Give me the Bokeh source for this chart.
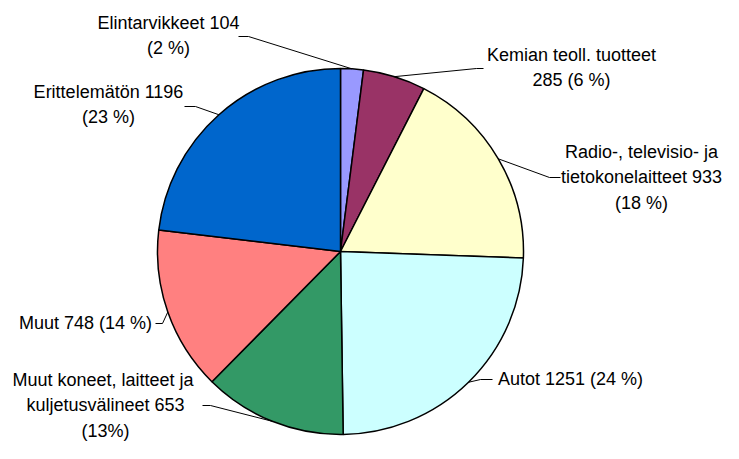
import math
from bokeh.plotting import figure
from bokeh.models import Range1d, ColumnDataSource
from bokeh.core.properties import value
from bokeh.embed import file_html
from bokeh.resources import INLINE

# ---- data ----
categories = ["Elintarvikkeet", "Kemian teoll. tuotteet",
              "Radio-, televisio- ja tietokonelaitteet", "Autot",
              "Muut koneet, laitteet ja kuljetusvälineet", "Muut", "Erittelemätön"]
values = [104, 285, 933, 1251, 653, 748, 1196]
label_lines = [
    ["Elintarvikkeet 104", "(2 %)"],
    ["Kemian teoll. tuotteet", "285 (6 %)"],
    ["Radio-, televisio- ja", "tietokonelaitteet 933", "(18 %)"],
    ["Autot 1251 (24 %)"],
    ["Muut  koneet, laitteet ja", "kuljetusvälineet 653", "(13%)"],
    ["Muut 748 (14 %)"],
    ["Erittelemätön 1196", "(23 %)"],
]
colors = ["#9999FF", "#993366", "#FFFFCC", "#CCFFFF", "#339966", "#FF8080", "#0066CC"]

# ---- layout (pixel coordinates of the picture) ----
W, H = 723, 443
CX, CY, R = 340, 251, 183
FONT = "Liberation Sans"
FSIZE = "18px"
LINE_H = 25.5
# label block: center x, first-line center y
label_pos = [(168, 22), (571, 54), (641, 151), (570, 378), (105, 379), (85, 322), (108, 91)]
# leader: start point (near text) and stub end x
leader_start = [(238, 36), (483, 68), (560, 177), (492, 379), (202, 405), (155, 323), (184, 106)]
leader_stub = [248, 476, 549, 480, 210, 162, 195]


def sy(y):
    return H - y


p = figure(width=W, height=H, output_backend="svg", toolbar_location=None,
           x_range=Range1d(0, W), y_range=Range1d(0, H),
           min_border=0, outline_line_color=None)
p.axis.visible = False
p.grid.visible = False
p.background_fill_color = "white"
p.border_fill_color = "white"

total = float(sum(values))
cum = 0.0
starts, ends, mids = [], [], []
for v in values:
    a0 = cum / total
    cum += v
    a1 = cum / total
    starts.append(math.pi / 2 - 2 * math.pi * a1)
    ends.append(math.pi / 2 - 2 * math.pi * a0)
    mids.append((a0 + a1) / 2)

src = ColumnDataSource(dict(start=starts, end=ends, color=colors, cat=categories, val=values))
p.wedge(x=CX, y=sy(CY), radius=R, start_angle="start", end_angle="end",
        direction="anticlock", fill_color="color", line_color="black",
        line_width=1.5, source=src)

# leader lines
xs, ys = [], []
for i, m in enumerate(mids):
    th = 2 * math.pi * m
    ex = CX + R * math.sin(th)
    ey = CY - R * math.cos(th)
    x0, y0 = leader_start[i]
    xs.append([x0, leader_stub[i], ex])
    ys.append([sy(y0), sy(y0), sy(ey)])
p.multi_line(xs=xs, ys=ys, line_color="black", line_width=1)

# labels
tx, ty, tt = [], [], []
for i, lines in enumerate(label_lines):
    lx, ly = label_pos[i]
    for j, t in enumerate(lines):
        tx.append(lx)
        ty.append(sy(ly + j * LINE_H))
        tt.append(t)
p.text(x=tx, y=ty, text=tt, text_align="center", text_baseline="middle",
       text_font=value(FONT), text_font_size=FSIZE, text_color="black")

open("out.html", "w").write(file_html(p, INLINE))
